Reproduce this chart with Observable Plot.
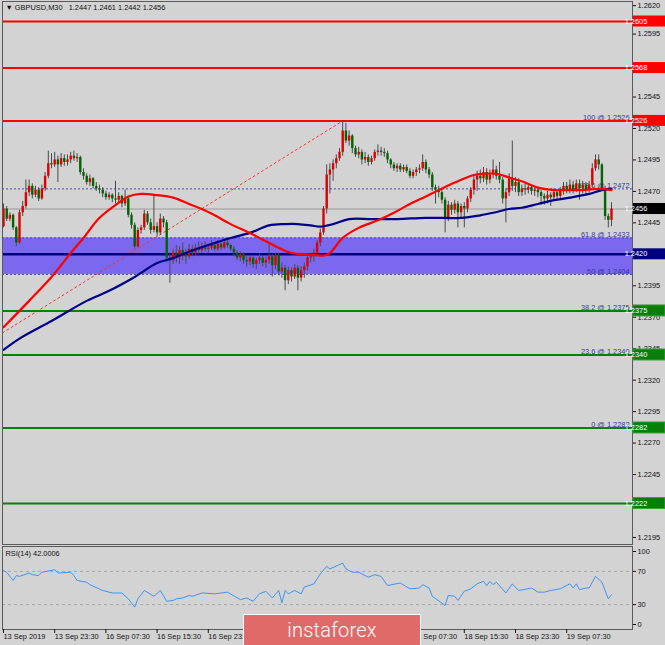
<!DOCTYPE html>
<html><head><meta charset="utf-8">
<script src="https://cdn.jsdelivr.net/npm/d3@7"></script>
<script src="https://cdn.jsdelivr.net/npm/@observablehq/plot@0.6"></script>
<style>
html,body{margin:0;padding:0;background:#d3d3d3;}
#wrap{position:relative;width:665px;height:645px;overflow:hidden;background:#d3d3d3;font-family:"Liberation Sans",Arial,sans-serif;}
#main{position:absolute;left:0;top:0;}
#rsi{position:absolute;left:0;top:545px;}
#wm{position:absolute;left:243px;top:614px;width:176px;height:34px;background:#e06a6a;border:1.5px solid #ffffff;color:#ffffff;font-family:Roboto,"Open Sans",sans-serif;font-weight:300;font-size:20px;line-height:30px;text-align:center;letter-spacing:0.2px;}
</style></head>
<body><div id="wrap"><div id="main"></div><div id="rsi"></div><div id="wm">instaforex</div></div>
<script>
// ---------- data ----------
const firstOpen = 1.2442;
const close = [1.2456,1.2448,1.2451,1.2441,1.2429,1.2453,1.2458,1.2469,1.2474,1.2467,
1.2471,1.2464,1.2472,1.2482,1.2492,1.2491,1.2495,1.2491,1.2496,1.2493,
1.2495,1.2498,1.2496,1.2497,1.2485,1.2482,1.2477,1.2480,1.2474,1.2472,
1.2471,1.2468,1.2465,1.2467,1.2464,1.2463,1.2466,1.2460,1.2464,1.2451,
1.2443,1.2426,1.2439,1.2441,1.2452,1.2445,1.2439,1.2442,1.2437,1.2448,
1.2445,1.2417,1.2415,1.2421,1.2417,1.2423,1.2420,1.2418,1.2424,1.2421,
1.2425,1.2423,1.2426,1.2424,1.2425,1.2427,1.2424,1.2428,1.2425,1.2429,
1.2427,1.2424,1.2421,1.2417,1.2420,1.2415,1.2414,1.2417,1.2412,1.2415,
1.2417,1.2413,1.2415,1.2418,1.2411,1.2419,1.2406,1.2409,1.2399,1.2407,
1.2402,1.2409,1.2401,1.2407,1.2410,1.2417,1.2418,1.2421,1.2429,1.2437,
1.2456,1.2483,1.2487,1.2492,1.2496,1.2501,1.2518,1.2510,1.2514,1.2504,
1.2499,1.2501,1.2495,1.2497,1.2493,1.2496,1.2501,1.2502,1.2501,1.2500,
1.2495,1.2491,1.2488,1.2490,1.2487,1.2489,1.2486,1.2482,1.2485,1.2487,
1.2488,1.2493,1.2487,1.2483,1.2473,1.2471,1.2469,1.2463,1.2448,1.2459,
1.2455,1.2460,1.2453,1.2458,1.2456,1.2464,1.2471,1.2479,1.2482,1.2480,
1.2485,1.2479,1.2483,1.2487,1.2482,1.2479,1.2464,1.2469,1.2480,1.2474,
1.2477,1.2469,1.2472,1.2471,1.2473,1.2470,1.2471,1.2469,1.2466,1.2464,
1.2467,1.2465,1.2469,1.2466,1.2470,1.2474,1.2471,1.2475,1.2471,1.2476,
1.2472,1.2475,1.2471,1.2475,1.2488,1.2495,1.2491,1.2472,1.2450,1.2447,
1.2456];
const high = [1.2460,1.2458,1.2453,1.2452,1.2442,1.2455,1.2462,1.2479,1.2479,1.2476,
1.2474,1.2473,1.2475,1.2485,1.2502,1.2500,1.2501,1.2498,1.2500,1.2499,
1.2499,1.2501,1.2502,1.2500,1.2498,1.2488,1.2484,1.2483,1.2481,1.2477,
1.2475,1.2473,1.2470,1.2469,1.2468,1.2478,1.2469,1.2467,1.2471,1.2466,
1.2453,1.2445,1.2441,1.2443,1.2455,1.2454,1.2448,1.2467,1.2445,1.2452,
1.2450,1.2447,1.2420,1.2424,1.2427,1.2426,1.2429,1.2424,1.2428,1.2427,
1.2428,1.2430,1.2429,1.2430,1.2428,1.2431,1.2429,1.2431,1.2429,1.2432,
1.2431,1.2428,1.2426,1.2423,1.2422,1.2421,1.2418,1.2419,1.2418,1.2417,
1.2420,1.2419,1.2418,1.2428,1.2420,1.2421,1.2421,1.2413,1.2411,1.2410,
1.2409,1.2412,1.2411,1.2410,1.2413,1.2419,1.2421,1.2424,1.2431,1.2440,
1.2458,1.2491,1.2492,1.2495,1.2499,1.2504,1.2526,1.2524,1.2518,1.2515,
1.2506,1.2505,1.2503,1.2501,1.2499,1.2498,1.2503,1.2507,1.2505,1.2504,
1.2502,1.2496,1.2493,1.2492,1.2492,1.2491,1.2491,1.2488,1.2487,1.2489,
1.2491,1.2499,1.2495,1.2489,1.2485,1.2475,1.2474,1.2471,1.2465,1.2462,
1.2461,1.2463,1.2462,1.2460,1.2461,1.2466,1.2473,1.2482,1.2486,1.2487,
1.2489,1.2488,1.2487,1.2495,1.2490,1.2493,1.2481,1.2472,1.2484,1.2510,
1.2481,1.2480,1.2475,1.2476,1.2476,1.2475,1.2474,1.2473,1.2471,1.2468,
1.2470,1.2469,1.2472,1.2471,1.2473,1.2477,1.2477,1.2479,1.2478,1.2479,
1.2479,1.2478,1.2477,1.2478,1.2492,1.2499,1.2499,1.2492,1.2474,1.2452,
1.2461];
const low = [1.2441,1.2446,1.2446,1.2439,1.2426,1.2428,1.2450,1.2456,1.2466,1.2464,
1.2465,1.2462,1.2463,1.2470,1.2480,1.2488,1.2489,1.2477,1.2489,1.2490,
1.2490,1.2492,1.2494,1.2493,1.2483,1.2479,1.2475,1.2474,1.2472,1.2470,
1.2468,1.2465,1.2463,1.2463,1.2461,1.2460,1.2461,1.2457,1.2458,1.2449,
1.2440,1.2424,1.2425,1.2436,1.2439,1.2443,1.2436,1.2437,1.2434,1.2435,
1.2441,1.2413,1.2397,1.2412,1.2413,1.2412,1.2415,1.2412,1.2416,1.2418,
1.2419,1.2420,1.2421,1.2422,1.2421,1.2423,1.2422,1.2422,1.2423,1.2424,
1.2425,1.2422,1.2418,1.2415,1.2414,1.2412,1.2410,1.2411,1.2409,1.2408,
1.2412,1.2410,1.2409,1.2412,1.2402,1.2408,1.2403,1.2401,1.2391,1.2396,
1.2398,1.2400,1.2391,1.2398,1.2401,1.2407,1.2413,1.2414,1.2419,1.2426,
1.2435,1.2452,1.2468,1.2478,1.2488,1.2494,1.2498,1.2508,1.2506,1.2500,
1.2497,1.2496,1.2491,1.2492,1.2490,1.2491,1.2494,1.2498,1.2498,1.2497,
1.2492,1.2488,1.2486,1.2485,1.2485,1.2485,1.2484,1.2480,1.2480,1.2482,
1.2484,1.2486,1.2484,1.2480,1.2470,1.2460,1.2465,1.2460,1.2437,1.2446,
1.2451,1.2452,1.2441,1.2449,1.2441,1.2453,1.2461,1.2467,1.2470,1.2476,
1.2477,1.2475,1.2476,1.2480,1.2479,1.2476,1.2460,1.2445,1.2466,1.2470,
1.2469,1.2466,1.2466,1.2467,1.2468,1.2467,1.2466,1.2465,1.2459,1.2459,
1.2460,1.2458,1.2462,1.2463,1.2463,1.2467,1.2468,1.2468,1.2468,1.2469,
1.2463,1.2468,1.2467,1.2469,1.2473,1.2486,1.2487,1.2470,1.2447,1.2441,
1.2442];

const maRedBar = [0,8,15,21,25,30,36,39,43,48,53,58,62,66,71,77,83,90,95,100,102,106,111,117,122,127,132,136,141,147,150,154,158,162,167,172,176,180,186,190];
const maRedVal = [1.2362,1.2383,1.2402,1.2421,1.2433,1.2449,1.2461,1.2466,1.2468,1.2467,1.2465,1.2460,1.2456,1.2451,1.2444,1.2437,1.2429,1.2421,1.2420,1.2419,1.2421,1.2433,1.2441,1.2447,1.2453,1.2460,1.2466,1.2471,1.2477,1.2483,1.2484,1.2484,1.2481,1.2478,1.2473,1.2471,1.2471,1.2471,1.2472,1.2471];
const maBlueBar = [0,5,15,26,33,41,48,53,59,66,71,77,83,88,92,96,99,103,108,115,123,132,143,149,153,158,162,167,172,177,183,187,190];
const maBlueVal = [1.2344,1.2353,1.2367,1.2383,1.2391,1.2402,1.2413,1.2417,1.2423,1.2429,1.2433,1.2437,1.2443,1.2444,1.2444,1.2443,1.2442,1.2444,1.2448,1.2448,1.2448,1.2449,1.2449,1.2451,1.2453,1.2456,1.2457,1.2460,1.2463,1.2465,1.2468,1.2471,1.2472];

const rsiBar = [0,1,3,4,5,8,9,11,12,16,17,21,22,23,26,27,31,34,37,39,41,42,44,47,49,51,53,54,56,58,59,62,66,70,74,76,78,80,82,84,86,87,88,89,91,93,94,97,99,101,102,106,107,109,111,114,116,118,120,124,127,130,131,133,134,138,139,141,142,144,146,148,150,151,152,153,154,157,159,161,165,167,169,171,174,177,178,179,180,182,183,185,187,189,190];
const rsiVal = [71,69,59,65,64,68,66,65,69,72,68,69,65,59,57,54,47,44,44,37,27,37,47,40,47,34,35,37,38,41,40,44,43,45,36,38,34,43,46,38,47,32,47,43,47,43,51,55,67,76,73,80,73,69,69,63,66,64,53,56,49,50,54,50,40,29,41,40,35,46,49,55,58,53,58,54,57,44,55,47,50,45,45,47,49,55,50,55,48,50,50,64,57,37,42];
const rsiLevels = [70, 30];

const fibLevel = [0, 23.6, 38.2, 50, 61.8, 78.6, 100];
const fibPrice = [1.2282, 1.2340, 1.2375, 1.2404, 1.2433, 1.2472, 1.2526];
const fibStartBar = -48, fibEndBar = 106;
const redLevels = [1.2605, 1.2568, 1.2526];
const greenLevels = [1.2375, 1.2340, 1.2282, 1.2222];
const navyLevel = 1.2420;
const bandLow = 1.2404, bandHigh = 1.2433;
const bidPrice = 1.2456;

const priceTicks = [1.2620,1.2595,1.2570,1.2545,1.2520,1.2495,1.2470,1.2445,1.2420,1.2395,1.2370,1.2345,1.2320,1.2295,1.2270,1.2245,1.2220,1.2195];
// tick labels that sit fully under a price box in the reference
const hiddenTicks = [1.2570, 1.2420];
// time labels visible below the RSI window (the 17 Sep ones lie under the watermark)
const xTickBars = [0,16,32,48,64,128,144,160,176];
const xTickLabels = ["13 Sep 2019","13 Sep 23:30","16 Sep 07:30","16 Sep 15:30","16 Sep 23:30","18 Sep 07:30","18 Sep 15:30","18 Sep 23:30","19 Sep 07:30"];
const headerText = "\u25BC GBPUSD,M30\u00a0\u00a0 1.2447 1.2461 1.2442 1.2456";
const rsiLabel = "RSI(14) 42.0006";

// ---------- build ----------
const bars = close.map((c, i) => ({i, open: i ? close[i-1] : firstOpen, close: c, high: high[i], low: low[i]}));
const redMa = maRedBar.map((b, k) => ({bar: b, v: maRedVal[k]}));
const blueMa = maBlueBar.map((b, k) => ({bar: b, v: maBlueVal[k]}));
const rsiPts = rsiBar.map((b, k) => ({bar: b, v: rsiVal[k]}));
const fibs = fibLevel.map((l, k) => ({level: l, price: fibPrice[k]}));
const diag = [{bar: fibStartBar, price: fibPrice[0]}, {bar: fibEndBar, price: fibPrice[6]}];

const FONT = "'Liberation Sans', Arial, sans-serif";
const FS = 7.4;
const W = 665, MR = 33, ML = 2;
const xDomain = [-0.3125, 196.5625];

const topTick = priceTicks[0];
const midTicks = priceTicks.filter(t => t !== topTick && !hiddenTicks.includes(t));

const main = Plot.plot({
  width: W, height: 545, marginLeft: ML, marginRight: MR, marginTop: 1, marginBottom: 1,
  style: {background: "#d3d3d3", fontFamily: FONT, fontSize: FS + "px", color: "#111"},
  x: {domain: xDomain, axis: null, label: null},
  y: {domain: [1.21894, 1.26209], label: null},
  marks: [
    Plot.rect([{lo: bandLow, hi: bandHigh}], {y1: "lo", y2: "hi", fill: "#7b68ee"}),
    Plot.ruleY(fibs, {y: "price", stroke: "#4848b4", strokeDasharray: "2,2"}),
    Plot.text(fibs, {y: "price", text: d => `${d.level} @ ${d.price.toFixed(4)}`, frameAnchor: "right", textAnchor: "end", lineAnchor: "bottom", dx: -3, dy: -0.5, fill: "#3636a8", fontSize: FS}),
    Plot.line(diag, {x: "bar", y: "price", stroke: "#ff3030", strokeDasharray: "2,3", strokeWidth: 1, clip: true}),
    Plot.ruleY([bidPrice], {stroke: "#9a9a9a", strokeWidth: 1}),
    Plot.ruleY(redLevels, {stroke: "#ff0000", strokeWidth: 2}),
    Plot.ruleY(greenLevels, {stroke: "#0a7d0a", strokeWidth: 2}),
    Plot.ruleY([navyLevel], {stroke: "#000080", strokeWidth: 2.4}),
    Plot.ruleX(bars, {x: "i", y1: "low", y2: "high", stroke: "#4a4a4a", strokeWidth: 1}),
    Plot.ruleX(bars, {x: "i", y1: "open", y2: "close", stroke: d => d.close >= d.open ? "#dd0000" : "#006400", strokeWidth: 2.4}),
    Plot.line(blueMa, {x: "bar", y: "v", stroke: "#00008b", strokeWidth: 2.2, curve: "catmull-rom"}),
    Plot.line(redMa, {x: "bar", y: "v", stroke: "#ff0000", strokeWidth: 2.2, curve: "catmull-rom"}),
    Plot.frame({stroke: "#5a5a5a"}),
    Plot.axisY(midTicks, {anchor: "right", tickSize: 3, tickPadding: 2, tickFormat: d => d.toFixed(4), fill: "#111", fontSize: FS, label: null}),
    Plot.axisY([topTick], {anchor: "right", tickSize: 3, tickPadding: 2, dy: 3, tickFormat: d => d.toFixed(4), fill: "#111", fontSize: FS, label: null}),
    Plot.text([headerText], {text: d => d, frameAnchor: "top-left", textAnchor: "start", lineAnchor: "top", dx: 3, dy: 3, fill: "#111", fontSize: FS})
  ]
});
document.getElementById("main").appendChild(main);

// boxed axis labels, positioned by the library's y scale
const ys = main.scale("y");
const boxes = [
  ...redLevels.map(p => ({p, fill: "#ff0000", stroke: "none"})),
  {p: bidPrice, fill: "#000000", stroke: "none"},
  {p: navyLevel, fill: "#000080", stroke: "none"},
  ...greenLevels.map(p => ({p, fill: "#0a7d0a", stroke: "#3fa03f"}))
];
const g = d3.select(main).append("g");
const bx = W - MR + 1;
for (const b of boxes) {
  const yy = ys.apply(b.p);
  g.append("rect").attr("x", bx).attr("y", yy - 5.5).attr("width", MR - 1).attr("height", 11)
    .attr("fill", b.fill).attr("stroke", b.stroke);
  g.append("text").attr("x", bx + 3).attr("y", yy).attr("dy", "0.35em")
    .attr("fill", "#ffffff").attr("font-size", FS).attr("font-family", FONT)
    .text(b.p.toFixed(4));
}

const rsi = Plot.plot({
  width: W, height: 100, marginLeft: ML, marginRight: MR, marginTop: 1, marginBottom: 16,
  style: {background: "#d3d3d3", fontFamily: FONT, fontSize: FS + "px", color: "#111"},
  x: {domain: xDomain, label: null},
  y: {domain: [0, 100], label: null},
  marks: [
    Plot.ruleY(rsiLevels, {stroke: "#a8a8a8", strokeDasharray: "3,3"}),
    Plot.line(rsiPts, {x: "bar", y: "v", stroke: "#3d95f5", strokeWidth: 1}),
    Plot.frame({stroke: "#5a5a5a"}),
    Plot.axisY(rsiLevels, {anchor: "right", tickSize: 3, tickPadding: 2, fontSize: FS, label: null}),
    Plot.axisY([100], {anchor: "right", tickSize: 3, tickPadding: 2, dy: 5, fontSize: FS, label: null}),
    Plot.axisY([0], {anchor: "right", tickSize: 3, tickPadding: 2, dy: -5, fontSize: FS, label: null}),
    Plot.axisX(xTickBars, {anchor: "bottom", tickSize: 4, tickPadding: 0, textAnchor: "start", label: null, tickFormat: b => xTickLabels[xTickBars.indexOf(b)], fontSize: FS, fill: "#111"}),
    Plot.text([rsiLabel], {text: d => d, frameAnchor: "top-left", textAnchor: "start", lineAnchor: "top", dx: 3, dy: 4, fill: "#111", fontSize: FS})
  ]
});
document.getElementById("rsi").appendChild(rsi);
</script>
</body></html>
